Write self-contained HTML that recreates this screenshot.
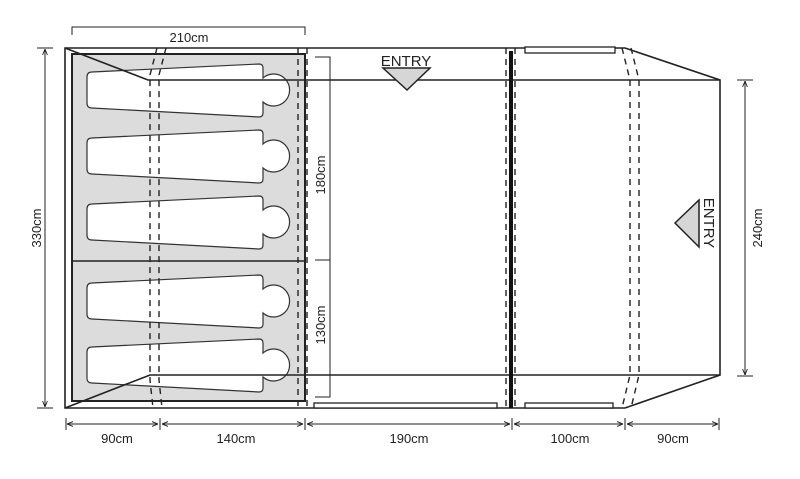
<!DOCTYPE html>
<html><head><style>html,body{margin:0;padding:0;background:#fff}svg{display:block}text{font-family:"Liberation Sans",sans-serif;fill:#222}</style></head><body>
<svg width="800" height="479" viewBox="0 0 800 479" xmlns="http://www.w3.org/2000/svg">
<defs>
<marker id="a" viewBox="0 0 10 10" refX="10" refY="5" markerWidth="6" markerHeight="6" orient="auto-start-reverse"><path d="M0,1 L10,5 L0,9" fill="none" stroke="#222" stroke-width="1.5"/></marker>
<g id="bag"><path d="M92,-18 L259,-26 Q263,-26 263,-22 L263,-12 A16,16 0 1 1 263,12 L263,23 Q263,27 259,27 L92,18 Q87,18 87,13 L87,-13 Q87,-18 92,-18 Z" fill="#fff" stroke="#333" stroke-width="1.2"/></g>
</defs>
<rect x="72" y="54" width="233" height="347" fill="#dcdcdc" stroke="#222" stroke-width="2"/>
<line x1="72" y1="261" x2="305" y2="261" stroke="#222" stroke-width="1.5"/>
<use href="#bag" y="90"/><use href="#bag" y="156"/><use href="#bag" y="222"/><use href="#bag" y="301"/><use href="#bag" y="365"/>
<g stroke="#222" stroke-width="1.6" fill="none">
<path d="M65,48 L625,48 L720,80 L720,375 L625,408 L65,408 Z"/>
<path d="M65,48 L148,80 L720,80"/>
<path d="M65,408 L150,375 L720,375"/>
</g>
<g stroke="#222" stroke-width="1.4" fill="none" stroke-dasharray="6,5">
<path d="M157,48 L150,75 L150,380 L153,408"/>
<path d="M166,48 L159,75 L159,380 L162,408"/>
<path d="M298,48 L298,408"/>
<path d="M307,48 L307,408"/>
<path d="M506,48 L506,408"/>
<path d="M515,48 L515,408"/>
<path d="M622,48 L630,80 L630,375 L622,408"/>
<path d="M631,48 L639,80 L639,375 L631,408"/>
</g>
<line x1="511" y1="51" x2="511" y2="408" stroke="#111" stroke-width="4"/>
<g fill="#fff" stroke="#222" stroke-width="1.3">
<rect x="525" y="47" width="90" height="6"/>
<rect x="314" y="403" width="183" height="5"/>
<rect x="525" y="403" width="88" height="5"/>
</g>
<path d="M383,68 L430,68 L407,90 Z" fill="#d6d6d6" stroke="#222" stroke-width="1.5"/>
<text x="406" y="66" font-size="15" text-anchor="middle">ENTRY</text>
<path d="M699,200 L699,247 L675,223 Z" fill="#d6d6d6" stroke="#222" stroke-width="1.5"/>
<text transform="translate(704,223) rotate(90)" font-size="15" text-anchor="middle">ENTRY</text>
<g stroke="#222" stroke-width="1" fill="none">
<path d="M72,35 L72,27 L305,27 L305,35"/>
<path d="M315,57 L330,57 L330,397 L315,397 M315,260 L330,260"/>
<line x1="37" y1="48" x2="53" y2="48"/><line x1="37" y1="408" x2="53" y2="408"/>
<line x1="45" y1="49" x2="45" y2="407" marker-start="url(#a)" marker-end="url(#a)"/>
<line x1="737" y1="80" x2="753" y2="80"/><line x1="737" y1="376" x2="753" y2="376"/>
<line x1="745" y1="81" x2="745" y2="375" marker-start="url(#a)" marker-end="url(#a)"/>
<path d="M66,418 L66,430 M160,418 L160,430 M305,418 L305,430 M512,418 L512,430 M625,418 L625,430 M719,418 L719,430"/>
<line x1="67" y1="424" x2="158" y2="424" marker-start="url(#a)" marker-end="url(#a)"/>
<line x1="162" y1="424" x2="303" y2="424" marker-start="url(#a)" marker-end="url(#a)"/>
<line x1="307" y1="424" x2="510" y2="424" marker-start="url(#a)" marker-end="url(#a)"/>
<line x1="514" y1="424" x2="623" y2="424" marker-start="url(#a)" marker-end="url(#a)"/>
<line x1="627" y1="424" x2="718" y2="424" marker-start="url(#a)" marker-end="url(#a)"/>
</g>
<g font-size="13" text-anchor="middle">
<text x="189" y="42">210cm</text>
<text x="117" y="443">90cm</text>
<text x="236" y="443">140cm</text>
<text x="409" y="443">190cm</text>
<text x="570" y="443">100cm</text>
<text x="673" y="443">90cm</text>
<text transform="translate(41,228) rotate(-90)">330cm</text>
<text transform="translate(762,228) rotate(-90)">240cm</text>
<text transform="translate(325,175) rotate(-90)">180cm</text>
<text transform="translate(325,325) rotate(-90)">130cm</text>
</g>
</svg>
</body></html>
